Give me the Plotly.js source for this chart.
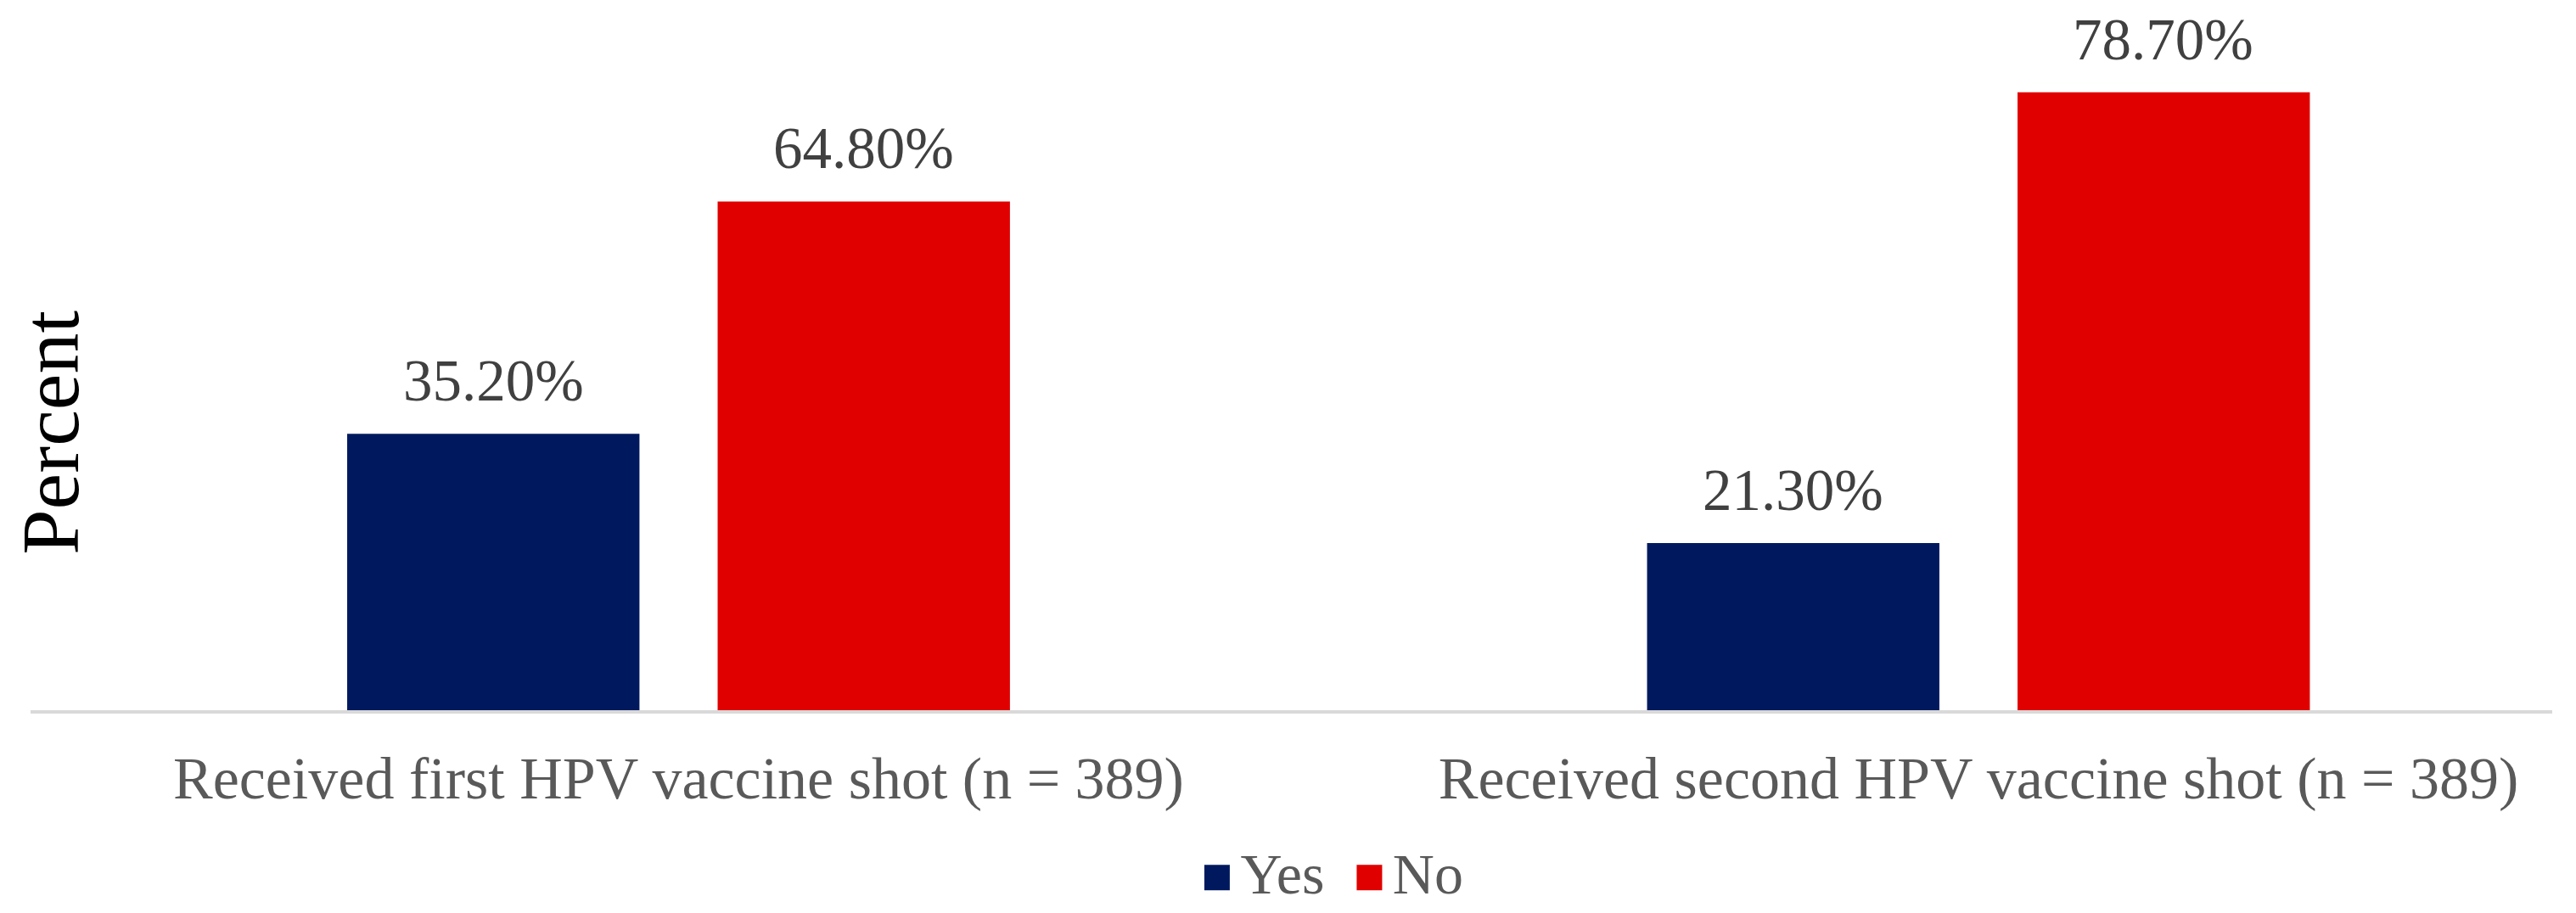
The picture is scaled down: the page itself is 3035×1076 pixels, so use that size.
<!DOCTYPE html>
<html>
<head>
<meta charset="utf-8">
<script src="https://cdn.plot.ly/plotly-3.0.1.min.js"></script>
<style>
  html, body { margin: 0; padding: 0; background: #fff; }
  #chart { width: 3035px; height: 1076px; }
</style>
</head>
<body>
<div id="chart"></div>
<script>
// HPV vaccine shots, percent of respondents
const categories = [
  'Received first HPV vaccine shot (n = 389)',
  'Received second HPV vaccine shot (n = 389)'
];
const seriesNames = ['Yes', 'No'];
const yesValues = [35.2, 21.3];
const noValues = [64.8, 78.7];

const colors = ['#00195E', '#E00000'];
const serif = 'Liberation Serif, Times New Roman, serif';

const traces = [yesValues, noValues].map((values, i) => ({
  type: 'bar',
  name: seriesNames[i],
  x: categories,
  y: values,
  marker: { color: colors[i] },
  showlegend: false,
  hoverinfo: 'x+y'
}));

// value labels above the bars (offset half a bar slot left / right)
const valueLabels = [];
[yesValues, noValues].forEach((values, i) => {
  values.forEach((v, j) => {
    valueLabels.push({
      x: categories[j],
      y: v,
      text: v.toFixed(2) + '%',
      xshift: i === 0 ? -218 : 218,
      yshift: 22,
      yanchor: 'bottom',
      showarrow: false,
      font: { family: serif, size: 69, color: '#404040' }
    });
  });
});

// legend drawn as text so the swatches can be as big as the original
const legendText = seriesNames.map((name, i) =>
  '<span style="color:' + colors[i] + ';font-size:62px">■</span>' +
  '<span style="font-size:36px"> </span>' + name
).join('  ');

const layout = {
  width: 3035,
  height: 1076,
  margin: { l: 36, r: 28, t: 19, b: 239, autoexpand: false },
  paper_bgcolor: '#fff',
  plot_bgcolor: '#fff',
  barmode: 'group',
  bargap: 0.43,
  bargroupgap: 0.211,
  font: { family: serif, color: '#595959' },
  xaxis: {
    type: 'category',
    range: [-0.4985, 1.4414],
    showline: true,
    linecolor: '#d9d9d9',
    linewidth: 4,
    ticks: '',
    showgrid: false,
    tickfont: { family: serif, size: 70, color: '#595959' },
    ticklabelstandoff: 16
  },
  yaxis: {
    range: [0, 88.4],
    showticklabels: false,
    showgrid: false,
    zeroline: false,
    showline: false,
    ticks: ''
  },
  showlegend: false,
  annotations: valueLabels.concat([
    {
      text: 'Percent',
      textangle: -90,
      xref: 'paper',
      yref: 'paper',
      x: (60 - 36) / 2971,
      y: 0.40,
      xanchor: 'center',
      yanchor: 'middle',
      showarrow: false,
      font: { family: serif, size: 96, color: '#000' }
    },
    {
      text: legendText,
      xref: 'paper',
      yref: 'paper',
      x: 0.5163,
      y: -0.236,
      xanchor: 'center',
      yanchor: 'middle',
      showarrow: false,
      font: { family: serif, size: 68, color: '#595959' }
    }
  ])
};

Plotly.newPlot('chart', traces, layout, { displayModeBar: false, staticPlot: true });
</script>
</body>
</html>
